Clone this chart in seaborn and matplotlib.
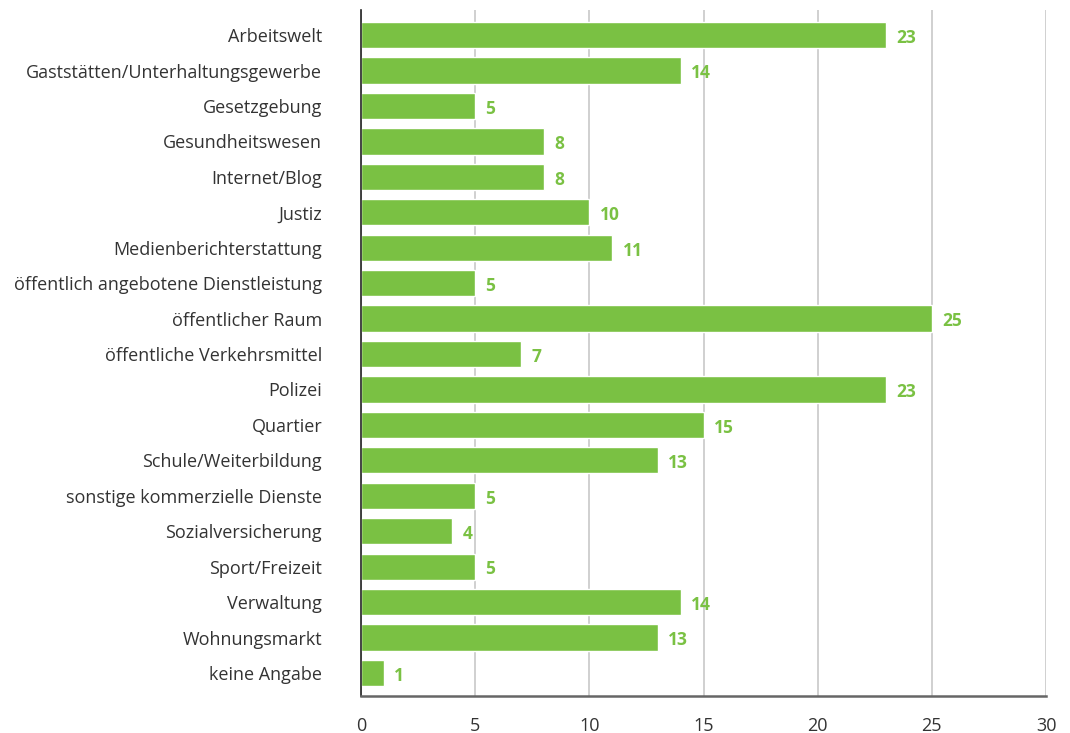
import seaborn as sns
import matplotlib.pyplot as plt
import pandas as pd

# Categories and counts
categories = [
    "Arbeitswelt", "Gaststätten/Unterhaltungsgewerbe", "Gesetzgebung",
    "Gesundheitswesen", "Internet/Blog", "Justiz", "Medienberichterstattung",
    "öffentlich angebotene Dienstleistung", "öffentlicher Raum",
    "öffentliche Verkehrsmittel", "Polizei", "Quartier",
    "Schule/Weiterbildung", "sonstige kommerzielle Dienste",
    "Sozialversicherung", "Sport/Freizeit", "Verwaltung",
    "Wohnungsmarkt", "keine Angabe",
]
counts = [23, 14, 5, 8, 8, 10, 11, 5, 25, 7, 23, 15, 13, 5, 4, 5, 14, 13, 1]
x_ticks = [0, 5, 10, 15, 20, 25, 30]

data = pd.DataFrame({"Bereich": categories, "Anzahl": counts})

green = "#7AC143"

sns.set_style("white")
plt.rcParams["font.family"] = ["Open Sans", "DejaVu Sans"]

fig = plt.figure(figsize=(10.7, 7.33), dpi=100)
ax = fig.add_axes([0.3374, 0.0505, 0.6402, 0.9359])

sns.barplot(data=data, x="Anzahl", y="Bereich", color=green, saturation=1,
            width=0.74, ax=ax)

for i, v in enumerate(counts):
    ax.text(v + 0.45, i + 0.08, str(v), va="center", ha="left", color=green,
            fontsize=12.5, fontweight="bold")

ax.set_xlim(0, 30)
ax.set_ylim(len(categories) - 0.35, -0.71)
ax.set_xticks(x_ticks)
ax.xaxis.grid(True, color="#c8c8c8", linewidth=1.2)
ax.set_axisbelow(True)
ax.set_xlabel("")
ax.set_ylabel("")
ax.tick_params(axis="both", length=0, labelsize=13, colors="#333333")
ax.tick_params(axis="x", pad=15)
ax.tick_params(axis="y", pad=28)

for s in ["top", "right"]:
    ax.spines[s].set_visible(False)
ax.spines["left"].set_color("#222222")
ax.spines["left"].set_linewidth(1.2)
ax.spines["bottom"].set_color("#666666")
ax.spines["bottom"].set_linewidth(1.8)

fig.savefig("out.png", dpi=100)
